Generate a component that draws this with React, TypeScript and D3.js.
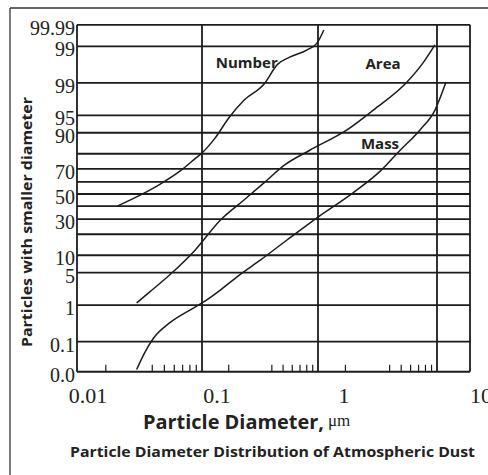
import React from 'react';
import * as d3 from 'd3';

// probability grid (percent) and the labels printed beside them (the scan labels 99.9 as "99")
const yGrid = [99.98, 99.9, 99, 95, 90, 80, 70, 60, 50, 40, 30, 20, 10, 5, 1, 0.1, 0.01];
const yLabels = ['99.99', '99', '99', '95', '90', '', '70', '', '50', '', '30', '', '10', '5', '1', '0.1', '0.0'];

const xDecades = [0.01, 0.1, 1, 10];
const xLabels = ['0.01', '0.1', '1', '10'];
const minorSteps = [1.7, 4, 5, 6, 7, 8, 9];

// curves: diameter (um) vs cumulative percent
const numberDiam = [0.021, 0.032, 0.046, 0.067, 0.088, 0.1, 0.13, 0.17, 0.23, 0.34, 0.45, 0.57, 0.8, 0.98, 1.12];
const numberPct = [40, 49, 58, 68.5, 77, 80.5, 88, 94.4, 97.5, 98.9, 99.67, 99.79, 99.87, 99.92, 99.97];

const areaDiam = [0.03, 0.038, 0.055, 0.088, 0.143, 0.23, 0.34, 0.52, 0.85, 1.75, 2.9, 5.6, 7.6, 9.6];
const areaPct = [1.13, 2.0, 4.5, 12, 29, 45, 59, 73, 82, 91, 96, 99.04, 99.69, 99.91];

const massDiam = [0.03, 0.035, 0.041, 0.055, 0.08, 0.1, 0.143, 0.21, 0.32, 0.54, 1.0, 1.97, 3.3, 4.9, 7.2, 9.6, 11.9];
const massPct = [0.012, 0.047, 0.13, 0.35, 0.76, 1.13, 2.2, 4.5, 8.4, 16.8, 31.5, 51, 68, 82, 91, 96, 99.04];

const curveNames = ['Number', 'Area', 'Mass'];
const labelDiam = [0.45, 3.52, 3.32];
const labelPct = [99.71, 99.69, 85.7];
const labelAnchor = ['end', 'middle', 'middle'];

// inverse normal cdf (Acklam)
function probit(p: number) {
  const a = [-39.69683028665376, 220.9460984245205, -275.9285104469687, 138.357751867269, -30.66479806614716, 2.506628277459239];
  const b = [-54.47609879822406, 161.5858368580409, -155.6989798598866, 66.80131188771972, -13.28068155288572];
  const c = [-0.007784894002430293, -0.3223964580411365, -2.400758277161838, -2.549732539343734, 4.374664141464968, 2.938163982698783];
  const d = [0.007784695709041462, 0.3224671290700398, 2.445134137142996, 3.754408661907416];
  const pl = 0.02425;
  if (p < pl) {
    const q = Math.sqrt(-2 * Math.log(p));
    return (((((c[0] * q + c[1]) * q + c[2]) * q + c[3]) * q + c[4]) * q + c[5]) / ((((d[0] * q + d[1]) * q + d[2]) * q + d[3]) * q + 1);
  }
  if (p > 1 - pl) {
    const q = Math.sqrt(-2 * Math.log(1 - p));
    return -(((((c[0] * q + c[1]) * q + c[2]) * q + c[3]) * q + c[4]) * q + c[5]) / ((((d[0] * q + d[1]) * q + d[2]) * q + d[3]) * q + 1);
  }
  const q = p - 0.5;
  const r = q * q;
  return (((((a[0] * r + a[1]) * r + a[2]) * r + a[3]) * r + a[4]) * r + a[5]) * q / (((((b[0] * r + b[1]) * r + b[2]) * r + b[3]) * r + b[4]) * r + 1);
}

const W = 488;
const H = 475;

export default function App() {
  // the scan's decades are not evenly spaced, so a piecewise log scale
  const x = d3.scaleLog().domain(xDecades).range([77, 202, 318, 437]);
  const xLab = d3.scaleLog().domain(xDecades).range([88, 217, 344, 481]);
  const zScale = d3.scaleLinear().domain([0, 1]).range([194, 146.2]);
  const y = (pct: number) => zScale(probit(pct / 100));

  const left = x(0.01);
  const right = 470;
  const top = y(yGrid[0]);
  const bottom = y(yGrid[yGrid.length - 1]);

  const line = d3.line<[number, number]>()
    .x(d => x(d[0]))
    .y(d => y(d[1]))
    .curve(d3.curveMonotoneX);

  const series = [
    d3.zip(numberDiam, numberPct),
    d3.zip(areaDiam, areaPct),
    d3.zip(massDiam, massPct),
  ] as [number, number][][];

  const minorTicks: number[] = [];
  xDecades.slice(0, 3).forEach(dec => minorSteps.forEach(s => minorTicks.push(dec * s)));

  const ink = '#1c1c1c';
  const sans = "'Open Sans', sans-serif";
  const serif = "'Liberation Serif', 'DejaVu Serif', serif";

  return (
    <svg width={W} height={H} style={{ position: 'absolute', left: 0, top: 0, background: '#fff' }}>
      {/* outer frame of the scan */}
      <line x1={10} x2={W} y1={8} y2={8} stroke="#333" strokeWidth={1.3} />
      <line x1={10} x2={10} y1={8} y2={H} stroke="#333" strokeWidth={1.3} />

      {/* horizontal grid */}
      {yGrid.map((p, i) => (
        <line key={'h' + i} x1={left} x2={right} y1={y(p)} y2={y(p)} stroke={ink} strokeWidth={1.8} />
      ))}
      {/* vertical decade lines + frame */}
      {[0.01, 0.1, 1, 10].map((v, i) => (
        <line key={'v' + i} x1={x(v)} x2={x(v)} y1={top} y2={bottom} stroke={ink} strokeWidth={1.8} />
      ))}
      <line x1={right} x2={right} y1={top} y2={bottom} stroke={ink} strokeWidth={1.8} />

      {/* minor ticks on the bottom axis */}
      {minorTicks.map((v, i) => (
        <line key={'m' + i} x1={x(v)} x2={x(v)} y1={bottom} y2={bottom - 7} stroke={ink} strokeWidth={1.2} />
      ))}

      {/* y labels */}
      {yGrid.map((p, i) => yLabels[i] ? (
        <text key={'yl' + i} x={75} y={y(p) + 3} textAnchor="end" dominantBaseline="central"
          fontFamily={serif} fontSize={20} fill="#222">{yLabels[i]}</text>
      ) : null)}

      {/* x labels */}
      {xDecades.map((v, i) => (
        <text key={'xl' + i} x={xLab(v)} y={403} textAnchor="middle"
          fontFamily={serif} fontSize={22} fill="#222">{xLabels[i]}</text>
      ))}

      {/* curves */}
      {series.map((s, i) => (
        <path key={'c' + i} d={line(s) || ''} fill="none" stroke={ink} strokeWidth={1.5} />
      ))}

      {/* curve labels */}
      {curveNames.map((n, i) => (
        <text key={'cl' + i} x={x(labelDiam[i])} y={y(labelPct[i])} textAnchor={labelAnchor[i]}
          dominantBaseline="central" fontFamily={sans} fontWeight={700} fontSize={15} fill="#222">{n}</text>
      ))}

      {/* axis titles */}
      <text x={143} y={429} fontFamily={sans} fontWeight={700} fontSize={19} fill="#222"
        textLength={181} lengthAdjust="spacingAndGlyphs">Particle Diameter,</text>
      <text x={328} y={426} fontFamily={serif} fontSize={17} fill="#222">μm</text>
      <text transform="translate(32,222) rotate(-90)" textAnchor="middle" fontFamily={sans}
        fontWeight={700} fontSize={14} fill="#222" textLength={250}
        lengthAdjust="spacingAndGlyphs">Particles with smaller diameter</text>
      <text x={70} y={457} fontFamily={sans} fontWeight={700} fontSize={14} fill="#222"
        textLength={405} lengthAdjust="spacingAndGlyphs">
        Particle Diameter Distribution of Atmospheric Dust
      </text>
    </svg>
  );
}
